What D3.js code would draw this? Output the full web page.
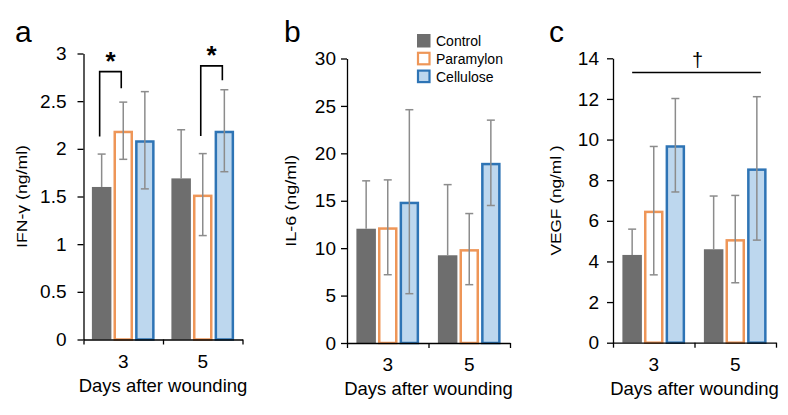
<!DOCTYPE html>
<html><head><meta charset="utf-8">
<script src="https://cdn.jsdelivr.net/npm/d3@7"></script>
<style>
body{margin:0;background:#fff;}
text{font-family:"Liberation Sans",Arial,sans-serif;fill:#000;}
</style></head>
<body><svg id="chart" width="788" height="415"></svg>
<script>
// ---- data ----
const categories = ["3", "5"];
const series = ["Control", "Paramylon", "Cellulose"];
// rows = series (Control, Paramylon, Cellulose); columns = categories (day 3, day 5)
const ifnMean = [[1.6, 1.69], [2.19, 1.52], [2.09, 2.19]];
const ifnSd   = [[0.345, 0.51], [0.30, 0.43], [0.51, 0.43]];
const il6Mean = [[12.05, 9.25], [12.2, 9.9], [14.9, 19.0]];
const il6Sd   = [[5.05, 7.45], [5.0, 3.75], [9.7, 4.5]];
const vegfMean = [[4.32, 4.6], [6.5, 5.1], [9.72, 8.58]];
const vegfSd   = [[1.27, 2.62], [3.16, 2.15], [2.3, 3.53]];
const ifnTicks = [0, 0.5, 1, 1.5, 2, 2.5, 3];
const il6Ticks = [0, 5, 10, 15, 20, 25, 30];
const vegfTicks = [0, 2, 4, 6, 8, 10, 12, 14];
const xTitle = "Days after wounding";

// ---- styles ----
const fills = {Control: "#6e6e6e", Paramylon: "#ffffff", Cellulose: "#bdd7ee"};
const strokes = {Control: null, Paramylon: "#ee9658", Cellulose: "#2e74b5"};
const errColor = "#8c8c8c";

const svg = d3.select("#chart");

function drawPanel(cfg) {
  const g = svg.append("g");
  const x0 = d3.scaleBand().domain(categories).range([cfg.left, cfg.right]).padding(0);
  const groupW = 62.7;
  const x1 = d3.scaleBand().domain(series).range([0, groupW]).paddingInner(0.097);
  const off = (x0.bandwidth() - groupW) / 2;
  const y = d3.scaleLinear().domain([0, cfg.max]).range([cfg.bottom, cfg.top]);
  const sw = 2.5;
  const bw = x1.bandwidth();
  const cx = (s, c) => x0(c) + off + x1(s) + bw / 2;

  // bars
  series.forEach((s, i) => {
    categories.forEach((c, j) => {
      const v = cfg.mean[i][j];
      const bx = x0(c) + off + x1(s);
      if (strokes[s]) {
        g.append("rect")
          .attr("x", bx + sw / 2).attr("width", bw - sw)
          .attr("y", y(v) + sw / 2).attr("height", y(0) - y(v) - sw / 2)
          .attr("fill", fills[s]).attr("stroke", strokes[s]).attr("stroke-width", sw);
      } else {
        g.append("rect")
          .attr("x", bx).attr("width", bw)
          .attr("y", y(v)).attr("height", y(0) - y(v))
          .attr("fill", fills[s]);
      }
    });
  });
  // error bars
  series.forEach((s, i) => {
    categories.forEach((c, j) => {
      const v = cfg.mean[i][j], sd = cfg.sd[i][j];
      const xc = cx(s, c);
      const hi = v + sd;
      const lo = s === "Control" ? v : v - sd;
      const eg = g.append("g").attr("stroke", errColor).attr("stroke-width", 1.5);
      eg.append("line").attr("x1", xc).attr("x2", xc).attr("y1", y(lo)).attr("y2", y(hi));
      eg.append("line").attr("x1", xc - 4).attr("x2", xc + 4).attr("y1", y(hi)).attr("y2", y(hi));
      if (s !== "Control")
        eg.append("line").attr("x1", xc - 4).attr("x2", xc + 4).attr("y1", y(lo)).attr("y2", y(lo));
    });
  });

  // y axis
  const ya = g.append("g").attr("transform", `translate(${cfg.left},0)`)
    .call(d3.axisLeft(y).tickValues(cfg.ticks).tickSize(6).tickSizeOuter(0)
      .tickPadding(cfg.tickPad).tickFormat(d => String(d)));
  ya.selectAll("path,line").attr("stroke", "#000").attr("stroke-width", 1.3);
  ya.selectAll("text").style("font-size", "19px").style("font-family", "Liberation Sans, Arial, sans-serif");

  // x axis (ticks at band boundaries)
  const xb = d3.scaleLinear().domain([0, categories.length]).range([cfg.left, cfg.right]);
  const xa = g.append("g").attr("transform", `translate(0,${cfg.bottom})`)
    .call(d3.axisBottom(xb).tickValues(d3.range(categories.length + 1)).tickSize(5).tickSizeOuter(0).tickFormat(""));
  xa.selectAll("path,line").attr("stroke", "#000").attr("stroke-width", 1.3);
  const xl = g.append("g").attr("transform", `translate(0,${cfg.bottom})`)
    .call(d3.axisBottom(x0).tickSize(0).tickPadding(15));
  xl.select(".domain").remove();
  xl.selectAll("text").style("font-size", "19px").style("font-family", "Liberation Sans, Arial, sans-serif");

  // axis titles
  g.append("text").attr("x", (cfg.left + cfg.right) / 2).attr("y", cfg.bottom + 52)
    .attr("text-anchor", "middle").style("font-size", "18.5px").text(xTitle);
  g.append("text")
    .attr("transform", `translate(${cfg.yTitleX},${(cfg.top + cfg.bottom) / 2}) rotate(-90)`)
    .attr("text-anchor", "middle").attr("dominant-baseline", "central")
    .attr("textLength", cfg.yTitleLen).attr("lengthAdjust", "spacingAndGlyphs")
    .style("font-size", "15px").text(cfg.yTitle);
  // panel letter
  g.append("text").attr("x", cfg.letterX).attr("y", 42).style("font-size", "30px").text(cfg.letter);

  return {x0, y, cx};
}

const pa = drawPanel({left: 83.5, right: 242.5, top: 53.5, bottom: 339.5, max: 3,
  mean: ifnMean, sd: ifnSd, ticks: ifnTicks, tickPad: 11,
  yTitle: "IFN-γ  (ng/ml)", yTitleX: 21, yTitleLen: 103, letter: "a", letterX: 15});
const pb = drawPanel({left: 347, right: 510, top: 58.5, bottom: 343, max: 30,
  mean: il6Mean, sd: il6Sd, ticks: il6Ticks, tickPad: 5,
  yTitle: "IL-6 (ng/ml)", yTitleX: 290, yTitleLen: 92, letter: "b", letterX: 284});
const pc = drawPanel({left: 613, right: 776, top: 58.3, bottom: 342.7, max: 14,
  mean: vegfMean, sd: vegfSd, ticks: vegfTicks, tickPad: 8,
  yTitle: "VEGF (ng/ml )", yTitleX: 555, yTitleLen: 110, letter: "c", letterX: 549});

// significance annotations
function bracket(p, sA, cA, sB, cB, topV, leftV, rightV, label) {
  const xa = p.cx(sA, cA) - 2, xbb = p.cx(sB, cB) - 2;
  svg.append("path")
    .attr("d", `M${xa},${p.y(leftV)}V${p.y(topV)}H${xbb}V${p.y(rightV)}`)
    .attr("fill", "none").attr("stroke", "#000").attr("stroke-width", 1.6);
  svg.append("text").attr("x", (xa + xbb) / 2).attr("y", p.y(topV) - 2)
    .attr("text-anchor", "middle").style("font-size", "26px").style("font-weight", "bold").text(label);
}
bracket(pa, "Control", "3", "Paramylon", "3", 2.81, 2.13, 2.635, "*");
bracket(pa, "Paramylon", "5", "Cellulose", "5", 2.87, 2.135, 2.72, "*");

// dagger line in panel c
{
  const xs = pc.cx("Control", "3"), xe = pc.cx("Cellulose", "5") + 4;
  const yl = pc.y(13.3);
  svg.append("line").attr("x1", xs).attr("x2", xe).attr("y1", yl).attr("y2", yl)
    .attr("stroke", "#000").attr("stroke-width", 1.5);
  svg.append("text").attr("x", (xs + xe) / 2 + 1).attr("y", yl - 6)
    .attr("text-anchor", "middle").style("font-size", "20px").text("†");
}

// legend
const leg = svg.append("g").attr("transform", "translate(417,34)");
series.forEach((s, i) => {
  const row = leg.append("g").attr("transform", `translate(0,${i * 17.8})`);
  if (strokes[s]) {
    row.append("rect").attr("x", 1).attr("y", 1).attr("width", 11.5).attr("height", 11.5)
      .attr("fill", fills[s]).attr("stroke", strokes[s]).attr("stroke-width", 2.2);
  } else {
    row.append("rect").attr("width", 13.5).attr("height", 13.5).attr("fill", fills[s]);
  }
  row.append("text").attr("x", 19).attr("y", 7).attr("dominant-baseline", "central")
    .style("font-size", "14px").text(s);
});
</script></body></html>
